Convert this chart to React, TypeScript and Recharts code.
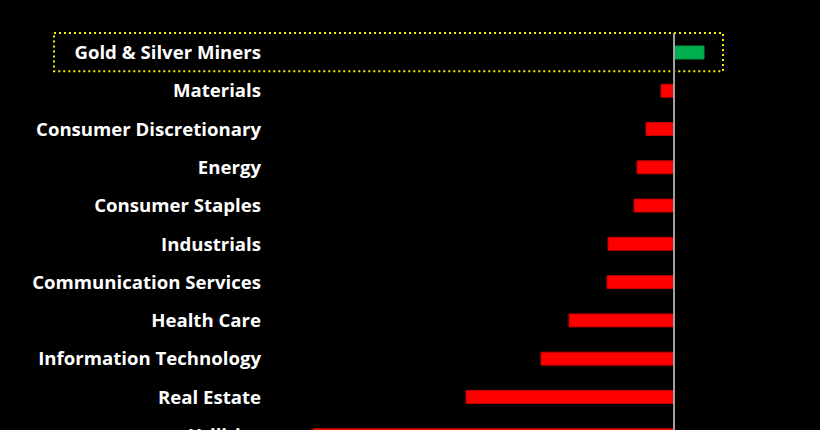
import React from "react";
import { BarChart, Bar, XAxis, YAxis, Cell, ReferenceLine, ReferenceArea } from "recharts";

const sectors = [
  "Gold & Silver Miners",
  "Materials",
  "Consumer Discretionary",
  "Energy",
  "Consumer Staples",
  "Industrials",
  "Communication Services",
  "Health Care",
  "Information Technology",
  "Real Estate",
  "Utilities",
];
const returns = [3.0, -1.3, -2.8, -3.7, -4.0, -6.6, -6.7, -10.5, -13.3, -20.8, -36.1];
const xDomain = [-40, 5];
const highlightRange = [-62, 4.9];

const data = sectors.map((name, i) => ({ name, value: returns[i] }));

const Tick = (props: any) => {
  const { x, y, payload } = props;
  return (
    <text
      x={x}
      y={y}
      dy={7}
      textAnchor="end"
      fill="#FFFFFF"
      fontFamily="'Open Sans', sans-serif"
      fontWeight={700}
      fontSize={18.6}
    >
      {payload.value}
    </text>
  );
};

export default function App() {
  return (
    <div
      style={{
        position: "fixed",
        left: 0,
        top: 0,
        width: 820,
        height: 430,
        overflow: "hidden",
        background: "#000000",
      }}
    >
      <BarChart
        width={820}
        height={460}
        data={data}
        layout="vertical"
        margin={{ top: 33, right: 96, bottom: 6, left: 0 }}
        barCategoryGap={0}
      >
        <XAxis type="number" domain={xDomain} hide allowDataOverflow />
        <YAxis
          type="category"
          dataKey="name"
          width={274}
          axisLine={false}
          tickLine={false}
          tickSize={0}
          tickMargin={13}
          interval={0}
          tick={<Tick />}
        />
        <ReferenceArea
          y1={sectors[0]}
          y2={sectors[0]}
          x1={highlightRange[0]}
          x2={highlightRange[1]}
          ifOverflow="visible"
          fill="none"
          stroke="#F0F000"
          strokeWidth={2}
          strokeDasharray="2 3"
        />
        <Bar dataKey="value" barSize={13} isAnimationActive={false}>
          {data.map((d, i) => (
            <Cell
              key={i}
              fill={d.value >= 0 ? "#00B050" : "#FF0000"}
              stroke={d.value >= 0 ? "#009A46" : "#C00000"}
              strokeWidth={1}
            />
          ))}
        </Bar>
        <ReferenceLine x={0} stroke="#A0A0A0" strokeWidth={2} ifOverflow="visible" />
      </BarChart>
    </div>
  );
}
